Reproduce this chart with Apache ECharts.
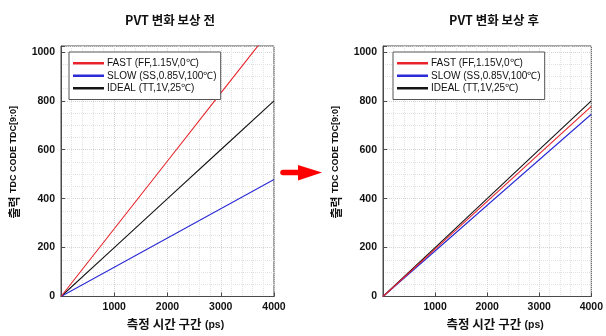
<!DOCTYPE html>
<html><head><meta charset="utf-8">
<script src="https://cdn.jsdelivr.net/npm/echarts@6/dist/echarts.min.js"></script>
<style>html,body{margin:0;padding:0;background:#fff}#c{width:606px;height:336px}</style>
</head><body><div id="c"></div>
<script>
const timePs = [0, 1000, 2000, 3000, 4000];
const beforeFast = [0, 277, 554, 831, 1108];
const beforeSlow = [0, 120, 239, 359, 478];
const beforeIdeal = [0, 200, 400, 600, 800];
const afterFast = [0, 194, 389, 583, 777];
const afterSlow = [0, 186, 373, 559, 745];
const afterIdeal = [0, 200, 400, 600, 800];
const seriesNames = ['FAST (FF,1.15V,0\u2103)', 'SLOW (SS,0.85V,100\u2103)', 'IDEAL (TT,1V,25\u2103)'];
const titles = ['PVT 변화 보상 전', 'PVT 변화 보상 후'];
const colors = ['#e8242a', '#2b2bd6', '#141414'];

const chart = echarts.init(document.getElementById('c'));
const numFont = '"Liberation Sans",Arial,sans-serif';
const krFont = '"Noto Sans CJK KR","Liberation Sans",sans-serif';
const grids = [
  {left: 61, top: 46, width: 213, height: 253},
  {left: 383, top: 46, width: 212, height: 253}
];
const plain = v => String(v);
function xAxis(i) {
  return {
    type: 'value', gridIndex: i, min: 0, max: 4000, interval: 1000,
    axisLine: {show: true, lineStyle: {color: '#4a4a4a', width: 1}},
    axisTick: {show: true, inside: true, length: 4, lineStyle: {color: '#4a4a4a'}},
    minorTick: {show: true, splitNumber: 5, length: 0},
    axisLabel: {showMinLabel: false, formatter: plain, color: '#111', fontWeight: 'bold', fontSize: 10.5, fontFamily: numFont, margin: 5},
    splitLine: {show: true, lineStyle: {color: '#d4d4d4', type: 'dotted', width: 1}},
    minorSplitLine: {show: true, lineStyle: {color: '#e2e2e2', type: 'dotted', width: 1}},
    name: '{k|측정 시간 구간} {p|(ps)}', nameLocation: 'middle', nameGap: 22,
    nameTextStyle: {padding: [0, 0, 0, 16], rich: {
      k: {fontFamily: krFont, fontWeight: 'bold', fontSize: 12.5, color: '#111'},
      p: {fontFamily: numFont, fontWeight: 'bold', fontSize: 10.5, color: '#111'}
    }}
  };
}
function yAxis(i) {
  return {
    type: 'value', gridIndex: i, min: 0, max: 1024, interval: 200,
    axisLine: {show: true, lineStyle: {color: '#4a4a4a', width: 1}},
    axisTick: {show: true, inside: true, length: 4, lineStyle: {color: '#4a4a4a'}},
    minorTick: {show: true, splitNumber: 4, length: 0},
    axisLabel: {showMaxLabel: false, formatter: plain, color: '#111', fontWeight: 'bold', fontSize: 10.5, fontFamily: numFont, margin: 6},
    splitLine: {show: true, lineStyle: {color: '#d4d4d4', type: 'dotted', width: 1}},
    minorSplitLine: {show: true, lineStyle: {color: '#e2e2e2', type: 'dotted', width: 1}},
    name: '{k|출력} {t|TDC CODE TDC[9:0]}', nameLocation: 'middle', nameGap: 41,
    nameTextStyle: {padding: [0, 0, 0, 18], rich: {
      k: {fontFamily: krFont, fontWeight: 'bold', fontSize: 12, color: '#111'},
      t: {fontFamily: numFont, fontWeight: 'bold', fontSize: 9, color: '#111'}
    }}
  };
}
function pairs(vals) { return timePs.map((t, k) => [t, vals[k]]); }
const sets = [[beforeFast, beforeSlow, beforeIdeal], [afterFast, afterSlow, afterIdeal]];
const series = [];
sets.forEach((set, g) => set.forEach((vals, s) => series.push({
  type: 'line', name: seriesNames[s], xAxisIndex: g, yAxisIndex: g,
  data: pairs(vals), showSymbol: false, symbol: 'none', clip: true,
  lineStyle: {color: colors[s], width: 1.1}, itemStyle: {color: colors[s]},
  z: 3 - s, animation: false
})));
function legend(left) {
  return {
    left: left, top: 52, orient: 'vertical', data: seriesNames, z: 10,
    backgroundColor: '#fff', borderColor: '#555', borderWidth: 1, borderRadius: 0,
    padding: [5, 4, 5, 4], itemGap: 0, itemWidth: 31, itemHeight: 2.5,
    icon: 'rect', selectedMode: false,
    textStyle: {fontFamily: numFont, fontSize: 10, color: '#111', lineHeight: 12.5, padding: [0, 0, 0, -2]}
  };
}
chart.setOption({
  animation: false,
  title: titles.map((t, i) => ({
    text: t, left: i === 0 ? 165 : 489, top: 9, textAlign: 'center',
    textStyle: {fontFamily: krFont, fontWeight: 'bold', fontSize: 12.5, color: '#111'}
  })),
  grid: grids.map(g => Object.assign({show: true, borderColor: '#4a4a4a', borderWidth: 1, backgroundColor: '#fff'}, g)),
  xAxis: [xAxis(0), xAxis(1)],
  yAxis: [yAxis(0), yAxis(1)],
  legend: [legend(69), legend(393)],
  series: series,
  graphic: [
    {type: 'line', shape: {x1: 283, y1: 172.5, x2: 301, y2: 172.5},
     style: {stroke: '#ff0000', lineWidth: 5.5, lineCap: 'round'}, z: 10},
    {type: 'polygon', shape: {points: [[298, 165], [322, 172.5], [298, 180.5]]},
     style: {fill: '#ff0000'}, z: 10}
  ]
});
</script></body></html>
